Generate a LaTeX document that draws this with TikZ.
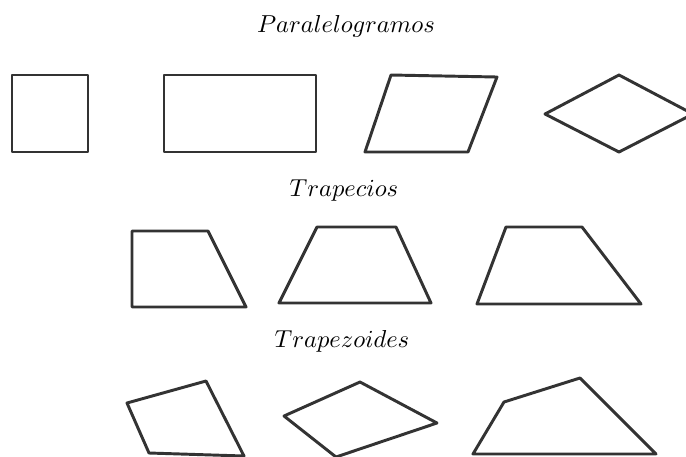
\documentclass[tikz,border=0pt]{standalone}
\usepackage{xcolor}
\usepackage{tikz}
\definecolor{figgray}{HTML}{333333}

\begin{document}
\begin{tikzpicture}[
  x=0.408pt,y=-0.408pt,
  titulo/.style={anchor=base,font=\normalsize},
  figura/.style={draw=figgray,line width=1.2pt,line join=round}
]
  \useasboundingbox (0,0) rectangle (686,456);
  \clip (0,0) rectangle (686,456);

  % Paralelogramos
  \node[titulo] (paral) at (346,32) {$Paralelogramos$};
  \draw[figura] (12,75) rectangle (88,152);
  \draw[figura] (164,75) rectangle (316,152);
  \draw[figura] (391,75) -- (497,77) -- (468,152) -- (365,152) -- cycle;
  \draw[figura] (545,114) -- (619,75) -- (693,114) -- (619,152) -- cycle;

  % Trapecios
  \node[titulo] (trap) at (344,196) {$Trapecios$};
  \draw[figura] (132,231) -- (208,231) -- (246,307) -- (132,307) -- cycle;
  \draw[figura] (279,303) -- (317,227) -- (396,227) -- (431,303) -- cycle;
  \draw[figura] (477,304) -- (506,227) -- (582,227) -- (641,304) -- cycle;

  % Trapezoides
  \node[titulo] (trapz) at (342,347) {$Trapezoides$};
  \draw[figura] (127,403) -- (206,381) -- (244,456) -- (149,453) -- cycle;
  \draw[figura] (284,416) -- (360,382) -- (437,423) -- (336,457) -- cycle;
  \draw[figura] (473,454) -- (504,402) -- (580,378) -- (656,454) -- cycle;
\end{tikzpicture}
\end{document}
